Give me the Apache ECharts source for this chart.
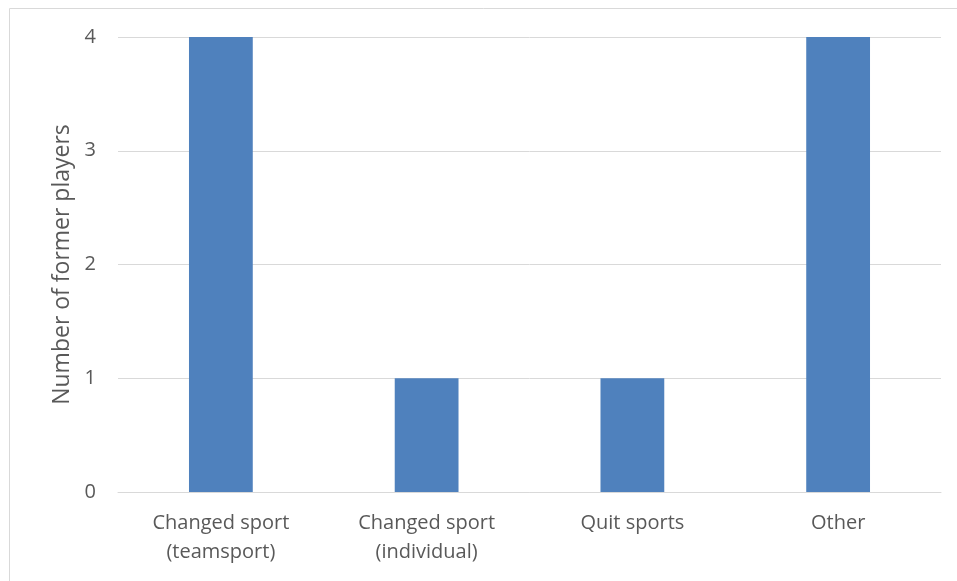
<!DOCTYPE html>
<html>
<head>
<meta charset="utf-8">
<script src="https://cdn.jsdelivr.net/npm/echarts@6/dist/echarts.min.js"></script>
<style>
  html, body { margin: 0; padding: 0; background: #fff; }
  #chart { width: 957px; height: 581px; }
</style>
</head>
<body>
<div id="chart"></div>
<script>
const categories = ['Changed sport\n(teamsport)', 'Changed sport\n(individual)', 'Quit sports', 'Other'];
const formerPlayers = [4, 1, 1, 4];
const yTicks = [0, 1, 2, 3, 4];

const chart = echarts.init(document.getElementById('chart'));
const font = '"Open Sans", "Liberation Sans", sans-serif';

chart.setOption({
  animation: false,
  graphic: [{
    type: 'rect',
    shape: { x: 9.5, y: 8.5, width: 960, height: 600 },
    style: { fill: 'none', stroke: '#d9d9d9', lineWidth: 1 },
    silent: true
  }],
  grid: { left: 118, right: 16, top: 37, bottom: 89 },
  xAxis: {
    type: 'category',
    data: categories,
    axisLine: { lineStyle: { color: '#d9d9d9', width: 1 } },
    axisTick: { show: false },
    axisLabel: {
      color: '#595959', fontFamily: font, fontSize: 20, lineHeight: 29,
      margin: 17, interval: 0
    }
  },
  yAxis: {
    type: 'value',
    min: yTicks[0],
    max: yTicks[yTicks.length - 1],
    interval: 1,
    name: 'Number of former players',
    nameLocation: 'middle',
    nameGap: 44,
    nameTextStyle: { color: '#595959', fontFamily: font, fontSize: 23 },
    axisLine: { show: false },
    axisTick: { show: false },
    axisLabel: { color: '#595959', fontFamily: font, fontSize: 20, margin: 22 },
    splitLine: { lineStyle: { color: '#d9d9d9', width: 1 } }
  },
  series: [{
    type: 'bar',
    data: formerPlayers,
    barWidth: '31%',
    itemStyle: { color: '#4f81bd' }
  }]
});
</script>
</body>
</html>
